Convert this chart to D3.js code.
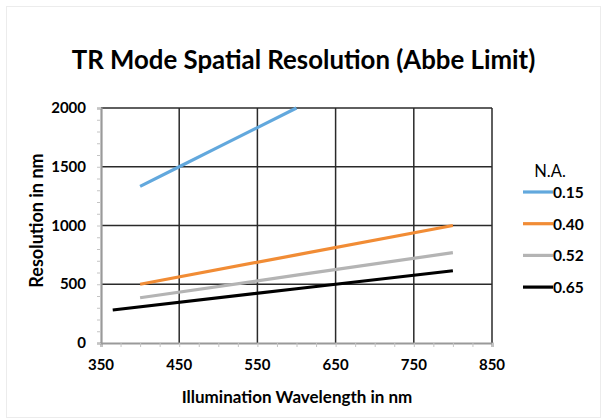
<!DOCTYPE html>
<html>
<head>
<meta charset="utf-8">
<script src="https://cdn.jsdelivr.net/npm/d3@7"></script>
<style>
  body { margin: 0; background: #fff; }
  text { font-family: Lato, 'Open Sans', sans-serif; fill: #000; }
</style>
</head>
<body>
<div id="chart"></div>
<script>
// values
let naLabels = ['0.15', '0.40', '0.52', '0.65']
let colors = ['#62a8dd', '#f18c35', '#b4b4b4', '#000000']
let wl015 = [400, 450, 500, 550, 600]
let res015 = [1333, 1500, 1667, 1833, 2000]
let wl040 = [400, 600, 800]
let res040 = [500, 750, 1000]
let wl052 = [400, 600, 800]
let res052 = [385, 577, 769]
let wl065 = [365, 600, 800]
let res065 = [281, 462, 615]
let xTicks = [350, 450, 550, 650, 750, 850]
let yTicks = [0, 500, 1000, 1500, 2000]

let width = 602
let height = 419
let margin = { left: 101, right: 110, top: 108, bottom: 76 }

let svg = d3.select('#chart')
  .append('svg')
  .attr('width', width)
  .attr('height', height)

svg.append('rect')
  .attr('x', 6.5).attr('y', 6.5)
  .attr('width', width - 8).attr('height', height - 8)
  .attr('fill', 'none')
  .attr('stroke', '#ececec')

let x = d3.scaleLinear().domain([350, 850]).range([margin.left, width - margin.right])
let y = d3.scaleLinear().domain([0, 2000]).range([height - margin.bottom, margin.top])

// gridlines
let g = svg.append('g')
g.selectAll('line.vgrid')
  .data(xTicks.slice(1))
  .enter()
  .append('line')
  .attr('x1', d => x(d)).attr('x2', d => x(d))
  .attr('y1', y(0)).attr('y2', y(2000))
  .attr('stroke', '#2a2a2a').attr('stroke-width', 1.5)
g.selectAll('line.hgrid')
  .data(yTicks.slice(1))
  .enter()
  .append('line')
  .attr('x1', x(350)).attr('x2', x(850))
  .attr('y1', d => y(d)).attr('y2', d => y(d))
  .attr('stroke', '#2a2a2a').attr('stroke-width', 1.5)

// axes (minor ticks only, labels drawn separately)
let xAxis = d3.axisBottom(x).tickValues(d3.range(350, 851, 25)).tickSize(4).tickFormat('')
let yAxis = d3.axisLeft(y).tickValues(d3.range(0, 2001, 100)).tickSize(4).tickFormat('')
let xa = svg.append('g').attr('transform', 'translate(0,' + y(0) + ')').call(xAxis)
let ya = svg.append('g').attr('transform', 'translate(' + x(350) + ',0)').call(yAxis)
;[xa, ya].forEach(a => {
  a.select('.domain').attr('stroke', '#9a9a9a').attr('stroke-width', 2.2)
  a.selectAll('.tick line').attr('stroke', '#c4c4c4')
})

svg.selectAll('text.xt')
  .data(xTicks)
  .enter()
  .append('text')
  .attr('x', d => x(d))
  .attr('y', y(0) + 27)
  .attr('text-anchor', 'middle')
  .style('font-size', '15px')
  .style('font-weight', 'bold')
  .text(d => d)

svg.selectAll('text.yt')
  .data(yTicks)
  .enter()
  .append('text')
  .attr('x', x(350) - 15)
  .attr('y', d => y(d) + 5)
  .attr('text-anchor', 'end')
  .style('font-size', '15px')
  .style('font-weight', 'bold')
  .text(d => d)

// series
let series = [
  { wl: wl015, res: res015 },
  { wl: wl040, res: res040 },
  { wl: wl052, res: res052 },
  { wl: wl065, res: res065 }
]
let line = d3.line().x(d => x(d[0])).y(d => y(d[1]))
series.forEach((s, i) => {
  svg.append('path')
    .datum(s.wl.map((w, j) => [w, s.res[j]]))
    .attr('d', line)
    .attr('fill', 'none')
    .attr('stroke', colors[i])
    .attr('stroke-width', 3.2)
})

// titles
svg.append('text')
  .attr('x', 303.5).attr('y', 69)
  .attr('text-anchor', 'middle')
  .style('font-size', '25.8px')
  .style('font-weight', 'bold')
  .text('TR Mode Spatial Resolution (Abbe Limit)')

svg.append('text')
  .attr('x', 297).attr('y', 403)
  .attr('text-anchor', 'middle')
  .style('font-size', '17px')
  .style('font-weight', 'bold')
  .text('Illumination Wavelength in nm')

svg.append('text')
  .attr('transform', 'translate(43,' + (y(1000) - 5) + ')rotate(-90)')
  .attr('text-anchor', 'middle')
  .style('font-size', '18px')
  .style('font-weight', 'bold')
  .text('Resolution in nm')

// legend
svg.append('text')
  .attr('x', 550).attr('y', 177)
  .attr('text-anchor', 'middle')
  .style('font-size', '16.5px')
  .text('N.A.')
let lg = svg.selectAll('g.legend')
  .data(naLabels)
  .enter()
  .append('g')
  .attr('transform', (d, i) => 'translate(523,' + (192 + i * 31.7) + ')')
lg.append('line')
  .attr('x1', 0).attr('x2', 30)
  .attr('stroke', (d, i) => colors[i])
  .attr('stroke-width', 3.2)
lg.append('text')
  .attr('x', 30).attr('y', 6)
  .style('font-size', '15.5px')
  .style('font-weight', 'bold')
  .text(d => d)
</script>
</body>
</html>
